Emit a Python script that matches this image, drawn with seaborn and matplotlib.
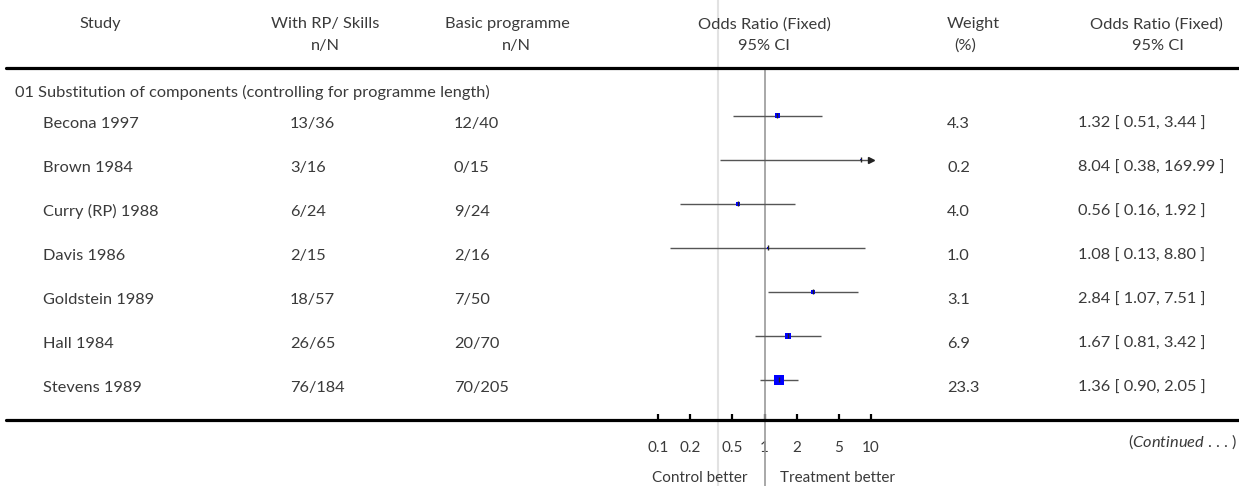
import numpy as np
import pandas as pd
import matplotlib
matplotlib.use("Agg")
import matplotlib.pyplot as plt
import seaborn as sns
from matplotlib.lines import Line2D
from matplotlib.transforms import blended_transform_factory

# ---- data -------------------------------------------------------------
section_title = "01 Substitution of components (controlling for programme length)"
studies = ["Becona 1997", "Brown 1984", "Curry (RP) 1988", "Davis 1986",
           "Goldstein 1989", "Hall 1984", "Stevens 1989"]
treat_events = [13, 3, 6, 2, 18, 26, 76]
treat_total = [36, 16, 24, 15, 57, 65, 184]
ctrl_events = [12, 0, 9, 2, 7, 20, 70]
ctrl_total = [40, 15, 24, 16, 50, 70, 205]
weights = [4.3, 0.2, 4.0, 1.0, 3.1, 6.9, 23.3]
odds_ratio = [1.32, 8.04, 0.56, 1.08, 2.84, 1.67, 1.36]
ci_lower = [0.51, 0.38, 0.16, 0.13, 1.07, 0.81, 0.90]
ci_upper = [3.44, 169.99, 1.92, 8.80, 7.51, 3.42, 2.05]
tick_values = [0.1, 0.2, 0.5, 1, 2, 5, 10]
tick_labels = ["0.1", "0.2", "0.5", "1", "2", "5", "10"]

df = pd.DataFrame({
    "row": np.arange(len(studies)),
    "study": studies,
    "weight": weights,
    "or": odds_ratio,
    "lo": ci_lower,
    "hi": ci_upper,
})

# ---- style ------------------------------------------------------------
sns.set_style("white")
plt.rcParams["font.family"] = ["Lato", "DejaVu Sans"]
plt.rcParams["mathtext.fontset"] = "custom"
plt.rcParams["mathtext.rm"] = "Lato"
plt.rcParams["mathtext.it"] = "Lato:italic"
TXT = "#3a3a3a"
FS = 11.8

W, H = 1239, 486
fig = plt.figure(figsize=(W / 100, H / 100), dpi=100)
fig.patch.set_facecolor("white")


def fx(px):
    return px / W


def fy(py):
    return 1 - py / H


# layout in pixels
X_LO, X_HI = 0.1, 10
PX_LO, PX_HI = 658, 871
ROW0, ROW_STEP = 115.7, 44.0
TOP_RULE, BOTTOM_RULE = 68.3, 419.5

ax = fig.add_axes([fx(PX_LO), fy(BOTTOM_RULE),
                   (PX_HI - PX_LO) / W, (BOTTOM_RULE - TOP_RULE) / H])
ax.set_xscale("log")
ax.set_xlim(X_LO, X_HI)
ax.set_ylim((BOTTOM_RULE - ROW0) / ROW_STEP, (TOP_RULE - ROW0) / ROW_STEP)
ax.patch.set_alpha(0)
for s in ax.spines.values():
    s.set_visible(False)

# faint guide line through the whole figure
fig.add_artist(Line2D([fx(718), fx(718)], [0, 1], color="#e2e2e2", lw=1.5,
                      zorder=0))

# line of no effect, running down to the bottom edge
below = (H - BOTTOM_RULE) / (BOTTOM_RULE - TOP_RULE)
ax.axvline(1, ymin=-below, ymax=1, color="#9a9a9a", lw=1.2, clip_on=False,
           zorder=1)

# confidence intervals, clipped to the axis range
ax.hlines(df["row"], df["lo"].clip(lower=X_LO), df["hi"].clip(upper=X_HI),
          color="#555555", lw=1.0, zorder=2)
over = df[df["hi"] > X_HI]
ax.plot(np.full(len(over), X_HI), over["row"], ls="none", marker=">",
        ms=4, color="#222222", clip_on=False, zorder=4)

# study squares, area proportional to weight
wmin, wmax = df["weight"].min(), df["weight"].max()
sns.scatterplot(data=df, x="or", y="row", size="weight",
                sizes=(2.4 * wmin, 2.4 * wmax), size_norm=(wmin, wmax),
                marker="s", color="#0000ff", linewidth=0, legend=False,
                ax=ax, zorder=3)
ax.vlines(df["or"], df["row"] - 0.06, df["row"] + 0.06, color="#222222",
          lw=1.0, zorder=4)

# axis ticks
ax.set_xticks(tick_values)
ax.set_xticklabels(tick_labels)
ax.xaxis.set_minor_locator(matplotlib.ticker.NullLocator())
ax.set_yticks([])
ax.tick_params(axis="x", bottom=True, direction="in", length=4.5, width=1.6,
               color="black", pad=15.5, labelsize=FS - 0.8, labelcolor=TXT)
ax.set_xlabel("")
ax.set_ylabel("")

# horizontal rules
for y in (TOP_RULE, BOTTOM_RULE):
    fig.add_artist(Line2D([fx(6), 1], [fy(y), fy(y)], color="black", lw=2.3,
                          zorder=5))

# column headers
headers = [
    ("Study", 100, 28.3), ("With RP/ Skills", 325, 28.3), ("n/N", 325, 50),
    ("Basic programme", 507.5, 28.3), ("n/N", 516, 50),
    ("Odds Ratio (Fixed)", 764.5, 28.3), ("95% CI", 764, 50),
    ("Weight", 973, 28.3), ("(%)", 965, 50),
    ("Odds Ratio (Fixed)", 1156.5, 28.3), ("95% CI", 1158, 50),
]
for text, x, y in headers:
    fig.text(fx(x), fy(y), text, ha="center", va="baseline", fontsize=FS,
             color=TXT)

fig.text(fx(15), fy(96.7), section_title, ha="left", va="baseline",
         fontsize=FS, color=TXT)

# per-study text columns, aligned to the data rows
tr = blended_transform_factory(fig.transFigure, ax.transData)
base = 12 / ROW_STEP
for i, r in df.iterrows():
    y = r["row"] + base
    cols = [
        (43, r["study"]),
        (290, f"{treat_events[i]}/{treat_total[i]}"),
        (454, f"{ctrl_events[i]}/{ctrl_total[i]}"),
        (947, f"{r['weight']:.1f}"),
        (1078, f"{r['or']:.2f} [ {r['lo']:.2f}, {r['hi']:.2f} ]"),
    ]
    for x, text in cols:
        ax.text(fx(x), y, text, transform=tr, ha="left", va="baseline",
                fontsize=FS, color=TXT, clip_on=False)

# direction labels
fig.text(fx(747), fy(481.7), "Control better", ha="right", va="baseline",
         fontsize=FS - 0.8, color=TXT)
fig.text(fx(780), fy(481.7), "Treatment better", ha="left", va="baseline",
         fontsize=FS - 0.8, color=TXT)
fig.text(fx(1237), fy(447), r"($\mathit{Continued}$ . . . )", ha="right",
         va="baseline", fontsize=FS, color=TXT)

fig.savefig("out.png", dpi=100, facecolor="white")
